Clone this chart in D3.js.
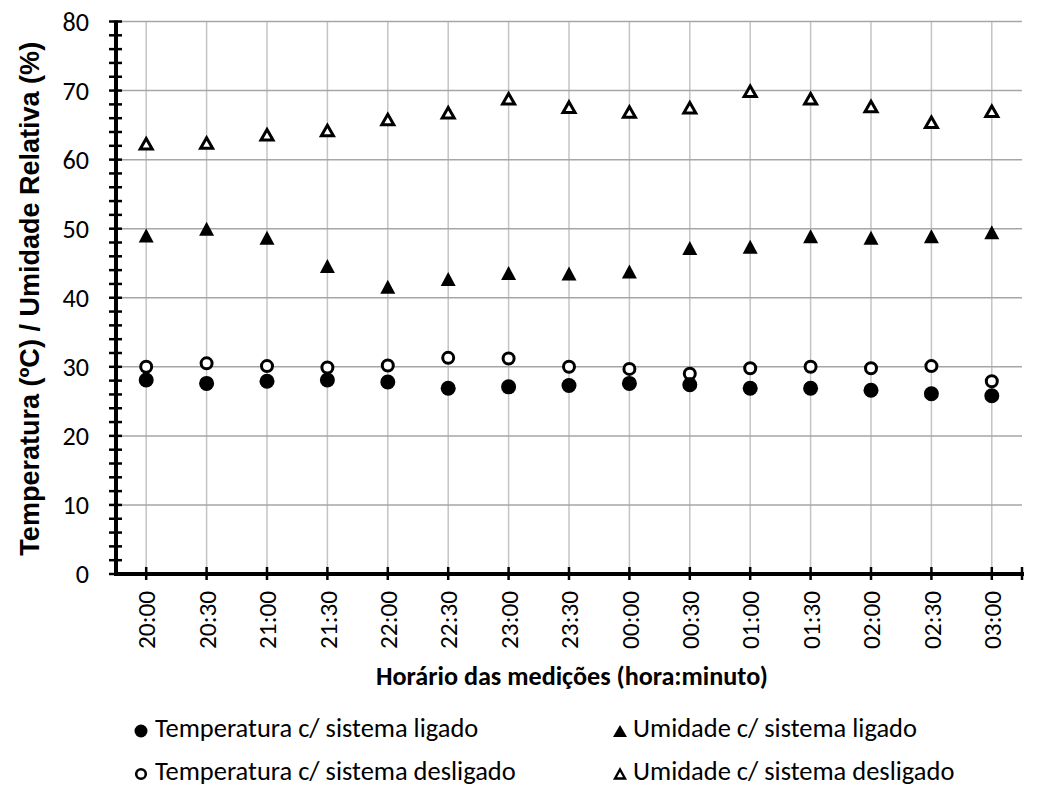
<!DOCTYPE html>
<html>
<head>
<meta charset="utf-8">
<script src="https://cdn.jsdelivr.net/npm/d3@7"></script>
<style>
  body { margin: 0; background: #fff; }
  svg { display: block; }
</style>
</head>
<body>
<div id="chart"></div>
<script>
// data
var times = ["20:00","20:30","21:00","21:30","22:00","22:30","23:00","23:30","00:00","00:30","01:00","01:30","02:00","02:30","03:00"];
var tempLigado    = [28.1, 27.6, 27.9, 28.1, 27.8, 26.9, 27.1, 27.3, 27.6, 27.4, 26.9, 26.9, 26.6, 26.1, 25.8];
var tempDesligado = [30.0, 30.5, 30.1, 29.9, 30.2, 31.3, 31.2, 30.0, 29.7, 29.0, 29.8, 30.0, 29.8, 30.1, 27.9];
var umidLigado    = [49.0, 50.0, 48.7, 44.6, 41.6, 42.7, 43.6, 43.5, 43.8, 47.2, 47.4, 48.9, 48.7, 48.9, 49.5];
var umidDesligado = [62.3, 62.4, 63.6, 64.2, 65.8, 66.8, 68.8, 67.6, 66.9, 67.5, 69.9, 68.8, 67.7, 65.4, 67.0];
var yTicks = [0, 10, 20, 30, 40, 50, 60, 70, 80];
var legendLabels = ["Temperatura c/ sistema ligado", "Umidade c/ sistema ligado",
                    "Temperatura c/ sistema desligado", "Umidade c/ sistema desligado"];

var W = 1040, H = 795;
var margin = {left: 116, right: 18, top: 21.5, bottom: 221};

var svg = d3.select("#chart").append("svg")
  .attr("width", W).attr("height", H);
svg.append("rect").attr("width", W).attr("height", H).attr("fill", "#fff");

var labelFont = "Carlito, Calibri, Lato, sans-serif";
var titleFont = "'Liberation Sans', Arial, sans-serif";

// font size that makes a sample string reach a given width (Calibri is narrower than Lato)
function fitSize(sample, target, family, weight) {
  var t = svg.append("text")
    .style("font-family", family)
    .style("font-weight", weight || "normal")
    .style("font-size", "100px")
    .text(sample);
  var len = t.node().getComputedTextLength();
  t.remove();
  return (100 * target / len).toFixed(2) + "px";
}
var yTickSize = fitSize("80", 26.5, labelFont);
var xTickSize = fitSize("20:00", 58, labelFont);
var legendSize = fitSize("Umidade c/ sistema ligado", 284, labelFont);
var xTitleSize = fitSize("Horário das medições (hora:minuto)", 392, labelFont, "bold");
var yTitleSize = fitSize("Temperatura (ºC) / Umidade Relativa (%)", 514, titleFont, "bold");

var x = d3.scalePoint()
  .domain(times)
  .range([margin.left, W - margin.right])
  .padding(0.5);

var y = d3.scaleLinear()
  .domain([0, 80])
  .range([H - margin.bottom, margin.top]);

var x0 = margin.left, x1 = W - margin.right, yb = y(0);

// gridlines
svg.append("g")
  .selectAll("line")
  .data(times)
  .join("line")
    .attr("x1", function(d) { return x(d); })
    .attr("x2", function(d) { return x(d); })
    .attr("y1", y(80)).attr("y2", yb)
    .attr("stroke", "#c4c4c4").attr("stroke-width", 1.5);

svg.append("g")
  .selectAll("line")
  .data(yTicks.filter(function(d) { return d > 0; }))
  .join("line")
    .attr("x1", x0).attr("x2", x1)
    .attr("y1", function(d) { return y(d); })
    .attr("y2", function(d) { return y(d); })
    .attr("stroke", "#a6a6a6").attr("stroke-width", 1.5);

// y axis with minor ticks every 2
var yAxis = svg.append("g").attr("transform", "translate(" + x0 + ",0)");
yAxis.selectAll("line.tk")
  .data(d3.range(0, 81, 2))
  .join("line")
    .attr("class", "tk")
    .attr("x1", -7).attr("x2", 6)
    .attr("y1", function(d) { return y(d); })
    .attr("y2", function(d) { return y(d); })
    .attr("stroke", "#000").attr("stroke-width", 2.5);
yAxis.append("line")
  .attr("x1", 0).attr("x2", 0)
  .attr("y1", y(80) - 1).attr("y2", yb + 2)
  .attr("stroke", "#000").attr("stroke-width", 4);
yAxis.selectAll("text")
  .data(yTicks)
  .join("text")
    .attr("x", -27)
    .attr("y", function(d) { return y(d); })
    .attr("dy", "0.36em")
    .attr("text-anchor", "end")
    .style("font-family", labelFont)
    .style("font-size", yTickSize)
    .attr("fill", "#000")
    .text(function(d) { return d; });

// x axis
var xAxis = svg.append("g");
xAxis.append("line")
  .attr("x1", x0 - 2).attr("x2", x1 + 2)
  .attr("y1", yb).attr("y2", yb)
  .attr("stroke", "#000").attr("stroke-width", 4);
xAxis.selectAll("line.tk")
  .data(times.map(function(d) { return x(d); }).concat([x1]))
  .join("line")
    .attr("class", "tk")
    .attr("x1", function(d) { return d; })
    .attr("x2", function(d) { return d; })
    .attr("y1", yb - 7).attr("y2", yb + 6)
    .attr("stroke", "#000").attr("stroke-width", 2.5);
xAxis.selectAll("text")
  .data(times)
  .join("text")
    .attr("transform", function(d) { return "translate(" + x(d) + "," + (yb + 17) + ") rotate(-90)"; })
    .attr("dy", "0.36em")
    .attr("text-anchor", "end")
    .style("font-family", labelFont)
    .style("font-size", xTickSize)
    .attr("fill", "#000")
    .text(function(d) { return d; });

// axis titles
svg.append("text")
  .attr("transform", "translate(39," + ((y(80) + yb) / 2 + 1) + ") rotate(-90)")
  .attr("text-anchor", "middle")
  .style("font-family", titleFont)
  .style("font-weight", "bold")
  .style("font-size", yTitleSize)
  .attr("fill", "#000")
  .text("Temperatura (ºC) / Umidade Relativa (%)");

svg.append("text")
  .attr("x", 572).attr("y", 685)
  .attr("text-anchor", "middle")
  .style("font-family", labelFont)
  .style("font-weight", "bold")
  .style("font-size", xTitleSize)
  .attr("fill", "#000")
  .text("Horário das medições (hora:minuto)");

// marker helpers
function tri(w, h) {
  return "M0," + (-h / 2) + "L" + (w / 2) + "," + (h / 2) + "L" + (-w / 2) + "," + (h / 2) + "Z";
}

function drawCircles(vals, open) {
  svg.append("g")
    .selectAll("circle")
    .data(vals)
    .join("circle")
      .attr("cx", function(d, i) { return x(times[i]); })
      .attr("cy", function(d) { return y(d); })
      .attr("r", open ? 5.5 : 7.5)
      .attr("fill", open ? "#fff" : "#000")
      .attr("stroke", "#000")
      .attr("stroke-width", open ? 3 : 0);
}

function drawTriangles(vals, open) {
  svg.append("g")
    .selectAll("path")
    .data(vals)
    .join("path")
      .attr("transform", function(d, i) { return "translate(" + x(times[i]) + "," + y(d) + ")"; })
      .attr("d", open ? tri(12, 10.5) : tri(15, 14))
      .attr("fill", open ? "#fff" : "#000")
      .attr("stroke", "#000")
      .attr("stroke-width", open ? 3 : 0)
      .attr("stroke-linejoin", "miter");
}

drawTriangles(umidDesligado, true);
drawTriangles(umidLigado, false);
drawCircles(tempDesligado, true);
drawCircles(tempLigado, false);

// legend
var legendItems = [
  {label: legendLabels[0], kind: "circle", open: false, mx: 141, tx: 155, y: 737},
  {label: legendLabels[1], kind: "tri", open: false, mx: 620, tx: 633, y: 737},
  {label: legendLabels[2], kind: "circle", open: true, mx: 141, tx: 155, y: 780},
  {label: legendLabels[3], kind: "tri", open: true, mx: 620, tx: 633, y: 780}
];
var lg = svg.append("g");
legendItems.forEach(function(it) {
  var cy = it.y - 5;
  if (it.kind === "circle") {
    lg.append("circle")
      .attr("cx", it.mx).attr("cy", cy - 1)
      .attr("r", it.open ? 4.8 : 6.5)
      .attr("fill", it.open ? "#fff" : "#000")
      .attr("stroke", "#000")
      .attr("stroke-width", it.open ? 2.6 : 0);
  } else {
    lg.append("path")
      .attr("transform", "translate(" + it.mx + "," + (cy - 1) + ")")
      .attr("d", it.open ? tri(10, 9) : tri(14, 12))
      .attr("fill", it.open ? "#fff" : "#000")
      .attr("stroke", "#000")
      .attr("stroke-width", it.open ? 2.4 : 0);
  }
  lg.append("text")
    .attr("x", it.tx).attr("y", it.y)
    .style("font-family", labelFont)
    .style("font-size", legendSize)
    .attr("fill", "#000")
    .text(it.label);
});
</script>
</body>
</html>
